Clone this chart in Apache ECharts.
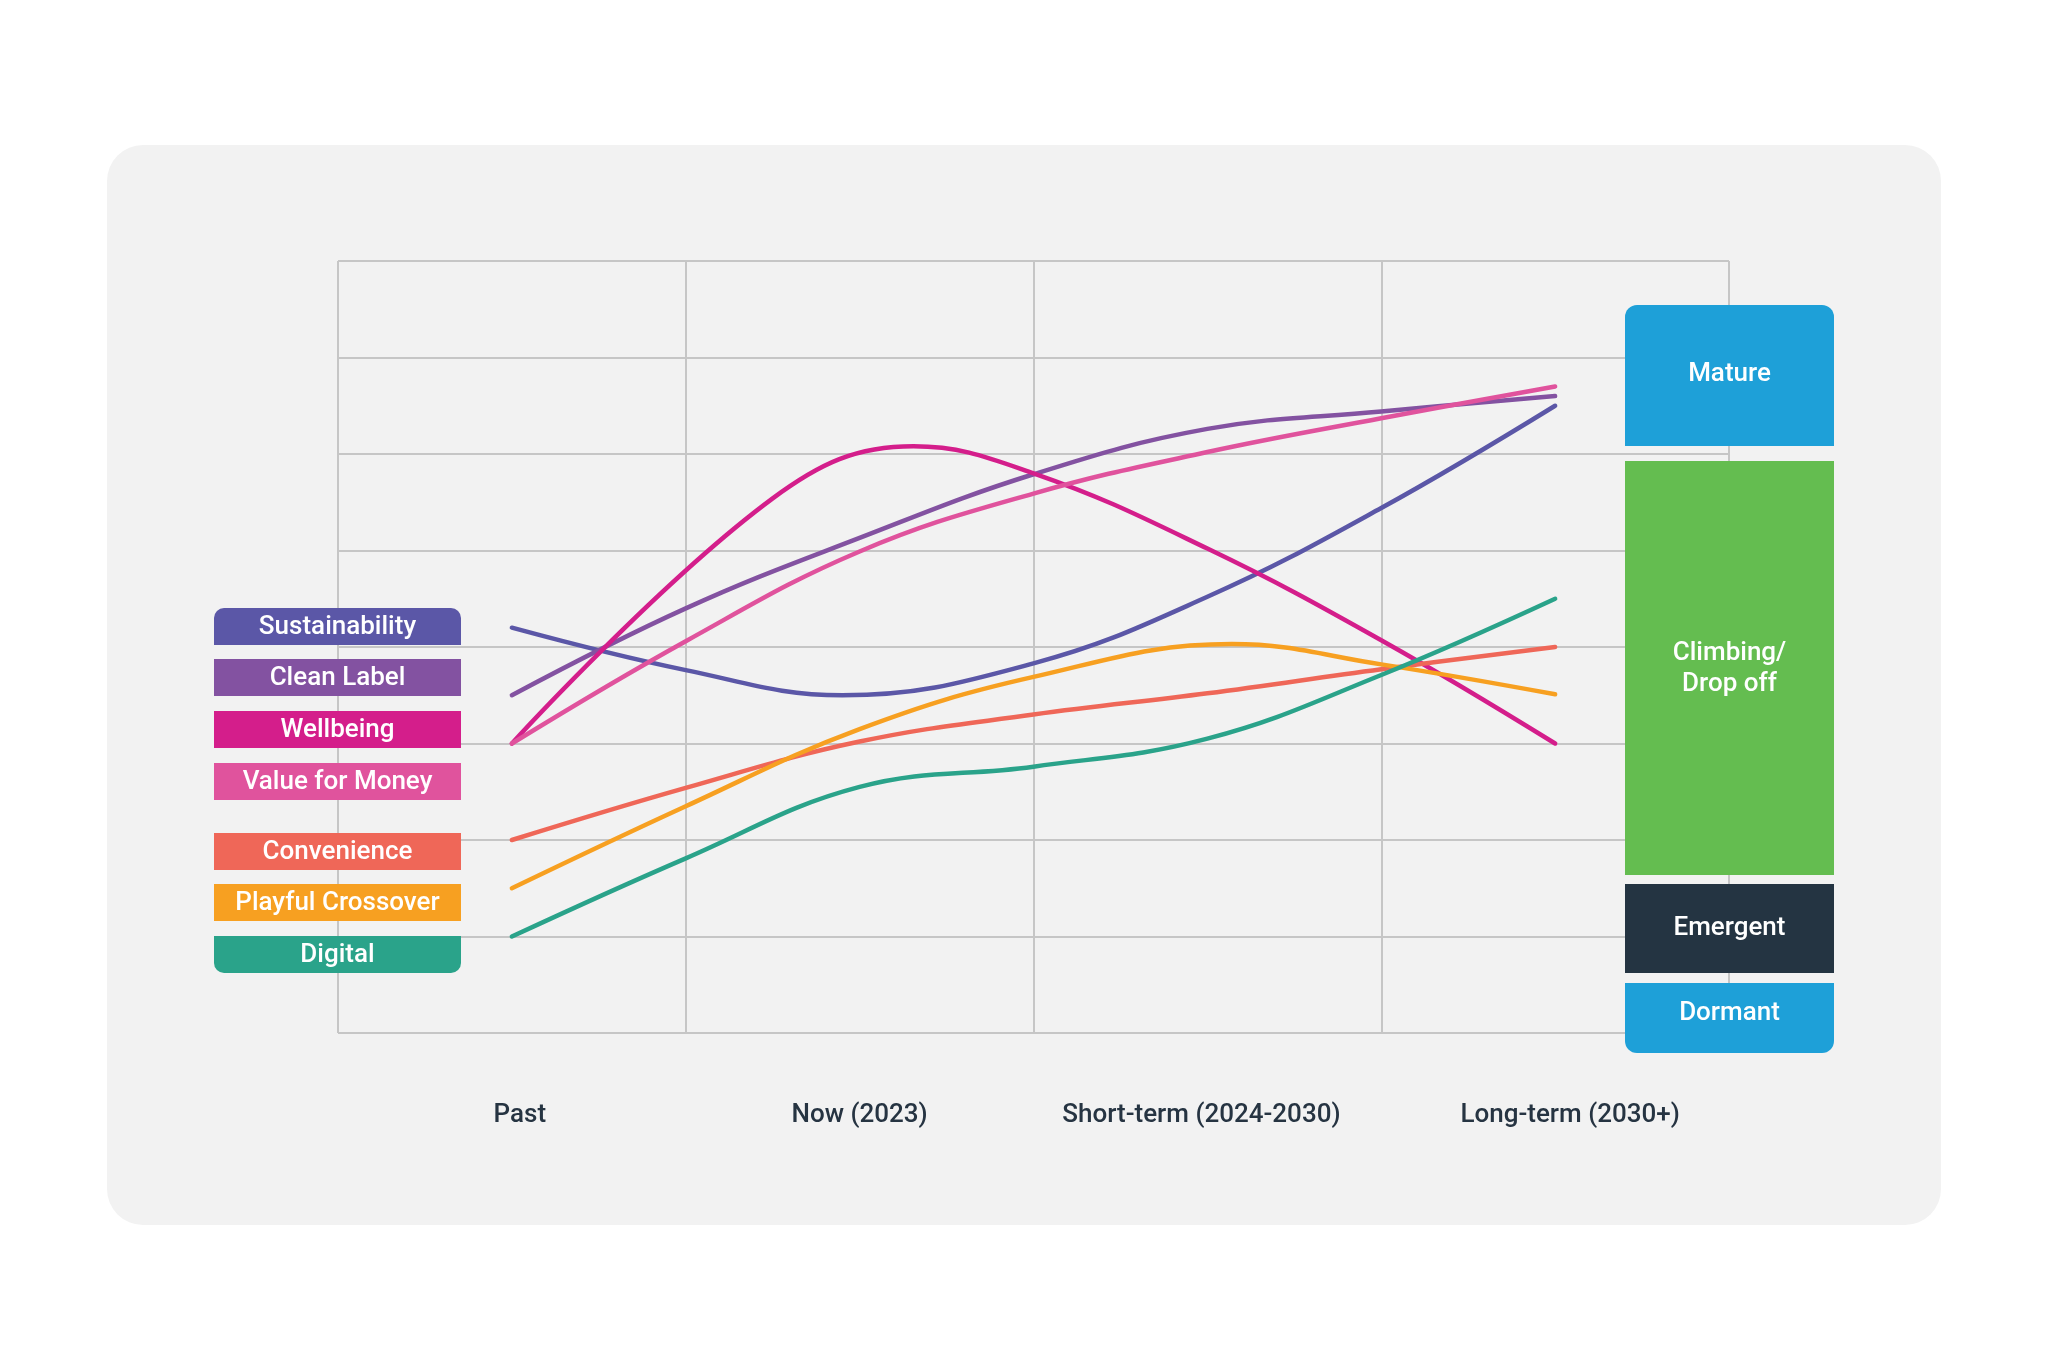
<!DOCTYPE html>
<html>
<head>
<meta charset="utf-8">
<script src="https://cdn.jsdelivr.net/npm/echarts@6.0.0/dist/echarts.min.js"></script>
<style>
  html, body { margin: 0; padding: 0; background: #ffffff; }
  #panel { position: absolute; left: 107px; top: 145px; width: 1834px; height: 1080px; border-radius: 36px; background: #f2f2f2; }
  #chart { position: absolute; left: 0; top: 0; width: 2048px; height: 1371px; }
</style>
</head>
<body>
<div id="panel"></div>
<div id="chart"></div>
<script>
// ---- Data: x position on the timeline (0.5 = Past ... 3.5 = Long-term), y = maturity level ----
const categories = ['Past', 'Now (2023)', 'Short-term (2024-2030)', 'Long-term (2030+)'];

const sustainability = [[0.5, 4.2], [1.0, 3.76], [1.45, 3.50], [2.0, 3.83], [2.5, 4.52], [3.0, 5.44], [3.5, 6.5]];
const cleanLabel     = [[0.5, 3.5], [1.0, 4.40], [1.5, 5.13], [2.0, 5.79], [2.5, 6.26], [3.0, 6.44], [3.5, 6.6]];
const wellbeing      = [[0.5, 3.0], [1.25, 5.54], [1.655, 6.08], [2.0, 5.80], [2.5, 5.02], [3.0, 4.07], [3.5, 3.0]];
const valueForMoney  = [[0.5, 3.0], [1.0, 4.06], [1.5, 4.99], [2.0, 5.59], [2.5, 6.02], [3.0, 6.37], [3.5, 6.7]];
const convenience    = [[0.5, 2.0], [1.0, 2.54], [1.5, 3.02], [2.0, 3.30], [2.5, 3.52], [3.0, 3.77], [3.5, 4.0]];
const playful        = [[0.5, 1.5], [1.0, 2.35], [1.5, 3.15], [2.0, 3.69], [2.57, 4.03], [3.0, 3.82], [3.5, 3.51]];
const digital        = [[0.5, 1.0], [1.0, 1.81], [1.5, 2.55], [2.0, 2.76], [2.5, 3.05], [3.0, 3.71], [3.5, 4.5]];

const trendNames  = ['Sustainability', 'Clean Label', 'Wellbeing', 'Value for Money', 'Convenience', 'Playful Crossover', 'Digital'];
const trendValues = [sustainability, cleanLabel, wellbeing, valueForMoney, convenience, playful, digital];
const trendColors = ['#5b57a7', '#8352a1', '#d41e8b', '#e0539d', '#ef6758', '#f7a021', '#2aa38a'];

const stageNames  = ['Mature', 'Climbing/\nDrop off', 'Emergent', 'Dormant'];
const stageColors = ['#1ea0d8', '#64bd50', '#243442', '#1ea0d8'];

// ---- Layout (pixels) ----
const FONT = 'Roboto, "Noto Sans", sans-serif';
const legendX = 214, legendW = 247, legendH = 37;
const legendTops = [608, 659, 711, 763, 833, 884, 936];
const stageX = 1625, stageW = 209;
const stageBoxes = [[305, 446], [461, 875], [884, 973], [983, 1053]];
const stageTextY = [374, 669, 928, 1013];
const catLabelShift = [8, 0, -6, 15];

const graphics = [];
trendNames.forEach((n, i) => {
  const top = legendTops[i];
  let r = 0;
  if (i === 0) r = [10, 10, 0, 0];
  if (i === trendNames.length - 1) r = [0, 0, 10, 10];
  graphics.push({
    type: 'rect', z: 100,
    shape: { x: legendX, y: top, width: legendW, height: legendH, r: r },
    style: { fill: trendColors[i] }
  });
  graphics.push({
    type: 'text', z: 101,
    style: { text: n, x: legendX + legendW / 2, y: top + legendH / 2 + 1, fill: '#ffffff',
             font: '500 26px ' + FONT, align: 'center', verticalAlign: 'middle' }
  });
});
stageNames.forEach((n, i) => {
  const [y0, y1] = stageBoxes[i];
  let r = 0;
  if (i === 0) r = [12, 12, 0, 0];
  if (i === stageNames.length - 1) r = [0, 0, 12, 12];
  graphics.push({
    type: 'rect', z: 100,
    shape: { x: stageX, y: y0, width: stageW, height: y1 - y0, r: r },
    style: { fill: stageColors[i] }
  });
  graphics.push({
    type: 'text', z: 101,
    style: { text: n, x: stageX + stageW / 2, y: stageTextY[i], fill: '#ffffff',
             font: '500 26px ' + FONT, lineHeight: 31, align: 'center', verticalAlign: 'middle' }
  });
});

const catData = categories.map((c, i) => {
  const s = catLabelShift[i];
  return { value: c, textStyle: { padding: s >= 0 ? [0, 0, 0, 2 * s] : [0, -2 * s, 0, 0] } };
});

const gridColor = '#c6c6c6';
const chart = echarts.init(document.getElementById('chart'), null, { renderer: 'canvas' });
chart.setOption({
  backgroundColor: 'transparent',
  animation: false,
  grid: { left: 338, top: 261, width: 1391, height: 772, containLabel: false, outerBoundsMode: 'none' },
  xAxis: [
    {
      type: 'value', min: 0, max: 4, interval: 1,
      axisLine: { show: false }, axisTick: { show: false }, axisLabel: { show: false },
      splitLine: { show: true, lineStyle: { color: gridColor, width: 2 } }
    },
    {
      type: 'category', data: catData, boundaryGap: true, position: 'bottom',
      axisLine: { show: false }, axisTick: { show: false }, splitLine: { show: false },
      axisLabel: { show: true, interval: 0, hideOverlap: false, margin: 69, fontSize: 26, fontWeight: 500, fontFamily: FONT, color: '#263442' }
    }
  ],
  yAxis: {
    type: 'value', min: 0, max: 8, interval: 1,
    axisLine: { show: false }, axisTick: { show: false }, axisLabel: { show: false },
    splitLine: { show: true, lineStyle: { color: gridColor, width: 2 } }
  },
  series: trendNames.map((n, i) => ({
    name: n, type: 'line', xAxisIndex: 0, yAxisIndex: 0,
    data: trendValues[i],
    smooth: 0.4, showSymbol: false, symbol: 'none',
    lineStyle: { color: trendColors[i], width: 4.5, cap: 'round', join: 'round' },
    itemStyle: { color: trendColors[i] },
    emphasis: { disabled: true }
  })),
  graphic: graphics
});
</script>
</body>
</html>
